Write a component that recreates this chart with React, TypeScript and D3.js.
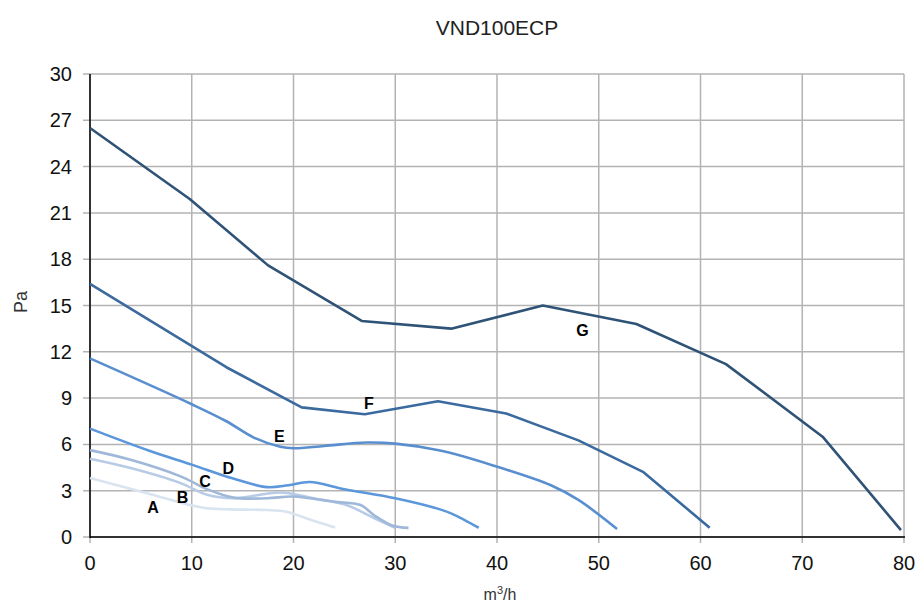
import React from "react";
import * as d3 from "d3";

const title = "VND100ECP";
const xTicks = [0, 10, 20, 30, 40, 50, 60, 70, 80];
const yTicks = [0, 3, 6, 9, 12, 15, 18, 21, 24, 27, 30];

const seriesNames = ["A", "B", "C", "D", "E", "F", "G"];
const seriesColors = ["#d9e4f1", "#b7cbe6", "#9fb8d9", "#5b97da", "#5a8fcf", "#3b6a9f", "#2f5377"];

const aX = [0, 5.6, 9.8, 11.5, 13.8, 17.4, 19.3, 21.3, 24.1];
const aY = [3.82, 2.84, 2.07, 1.86, 1.79, 1.75, 1.64, 1.2, 0.61];
const bX = [0, 3.9, 8.9, 11.5, 14.1, 18.7, 22, 25.2, 28, 30];
const bY = [5.07, 4.48, 3.49, 2.73, 2.51, 2.88, 2.51, 2.07, 1.2, 0.6];
const cX = [0, 3.9, 8.9, 11.5, 14.1, 17.4, 20, 23.9, 26.6, 27.9, 29.7, 31.3];
const cY = [5.63, 5.02, 3.93, 3.1, 2.55, 2.51, 2.62, 2.29, 2.07, 1.42, 0.75, 0.59];
const dX = [0, 5.9, 10, 14, 17.4, 19.5, 21.6, 25, 30, 34.4, 35.6, 38.2];
const dY = [7.02, 5.57, 4.69, 3.8, 3.23, 3.35, 3.56, 3.1, 2.51, 1.79, 1.5, 0.6];
const eX = [0, 10, 13.4, 16.1, 18.7, 20, 23, 27.2, 30, 34.4, 39.6, 45.3, 48, 51.8];
const eY = [11.57, 8.6, 7.5, 6.44, 5.85, 5.75, 5.9, 6.12, 6.05, 5.6, 4.64, 3.35, 2.4, 0.52];
const fX = [0, 13.4, 20.8, 27, 34.2, 40.9, 48, 54.4, 60.9];
const fY = [16.4, 11.0, 8.4, 7.95, 8.8, 8.0, 6.26, 4.2, 0.6];
const gX = [0, 9.8, 17.5, 26.7, 35.5, 44.5, 53.7, 62.5, 72, 79.7];
const gY = [26.5, 21.9, 17.6, 14.0, 13.5, 15.0, 13.8, 11.2, 6.5, 0.45];

const labelX = [6.2, 9.1, 11.3, 13.6, 18.6, 27.4, 48.4];
const labelY = [1.94, 2.59, 3.63, 4.47, 6.55, 8.69, 13.4];

const allX = [aX, bX, cX, dX, eX, fX, gX];
const allY = [aY, bY, cY, dY, eY, fY, gY];

const W = 918;
const H = 603;
const left = 90;
const right = 904;
const top = 74;
const bottom = 537;

export default function App() {
  const x = d3.scaleLinear().domain([0, 80]).range([left, right]);
  const y = d3.scaleLinear().domain([0, 30]).range([bottom, top]);
  const font = "'Liberation Sans', Arial, Helvetica, sans-serif";

  const series = seriesNames.map((name, i) => ({
    name,
    color: seriesColors[i],
    pts: allX[i].map((v, j) => [v, allY[i][j]] as [number, number]),
  }));

  const smooth = d3
    .line<[number, number]>()
    .x((d) => x(d[0]))
    .y((d) => y(d[1]))
    .curve(d3.curveCatmullRom.alpha(0.5));
  const straight = d3
    .line<[number, number]>()
    .x((d) => x(d[0]))
    .y((d) => y(d[1]))
    .curve(d3.curveLinear);

  return (
    <svg
      width={W}
      height={H}
      style={{ position: "absolute", left: 0, top: 0, background: "#fff" }}
      fontFamily={font}
    >
      <rect x={0} y={0} width={W} height={H} fill="#fff" />
      <text x={497} y={35} textAnchor="middle" fontSize={21} fill="#222">
        {title}
      </text>
      {yTicks.map((t) => (
        <line
          key={"gy" + t}
          x1={left - 7}
          x2={right}
          y1={y(t)}
          y2={y(t)}
          stroke="#b3b3b3"
          strokeWidth={1.5}
        />
      ))}
      {xTicks.map((t) => (
        <line
          key={"gx" + t}
          x1={x(t)}
          x2={x(t)}
          y1={top}
          y2={bottom + 6}
          stroke="#b3b3b3"
          strokeWidth={1.5}
        />
      ))}
      <line x1={left} x2={left} y1={top} y2={bottom + 1} stroke="#000" strokeWidth={1.5} />
      <line x1={left} x2={right + 1} y1={bottom} y2={bottom} stroke="#000" strokeWidth={1.5} />
      {yTicks.map((t) => (
        <text
          key={"ty" + t}
          x={72}
          y={y(t)}
          dy="0.35em"
          textAnchor="end"
          fontSize={20}
          fill="#111"
        >
          {t}
        </text>
      ))}
      {xTicks.map((t) => (
        <text key={"tx" + t} x={x(t)} y={570} textAnchor="middle" fontSize={20} fill="#111">
          {t}
        </text>
      ))}
      <text
        transform={`translate(27,302) rotate(-90)`}
        textAnchor="middle"
        fontSize={18}
        fill="#333"
      >
        Pa
      </text>
      <text x={500} y={600} textAnchor="middle" fontSize={16} fill="#333">
        m<tspan dy={-6} fontSize={11}>3</tspan>
        <tspan dy={6}>/h</tspan>
      </text>
      {series.map((s, i) => (
        <path
          key={s.name}
          d={(i >= 5 ? straight : smooth)(s.pts) || ""}
          fill="none"
          stroke={s.color}
          strokeWidth={2.6}
          strokeLinejoin="round"
          strokeLinecap="butt"
        />
      ))}
      {seriesNames.map((n, i) => (
        <text
          key={"l" + n}
          x={x(labelX[i])}
          y={y(labelY[i])}
          dy="0.36em"
          textAnchor="middle"
          fontSize={16}
          fontWeight="bold"
          fill="#000"
        >
          {n}
        </text>
      ))}
    </svg>
  );
}
